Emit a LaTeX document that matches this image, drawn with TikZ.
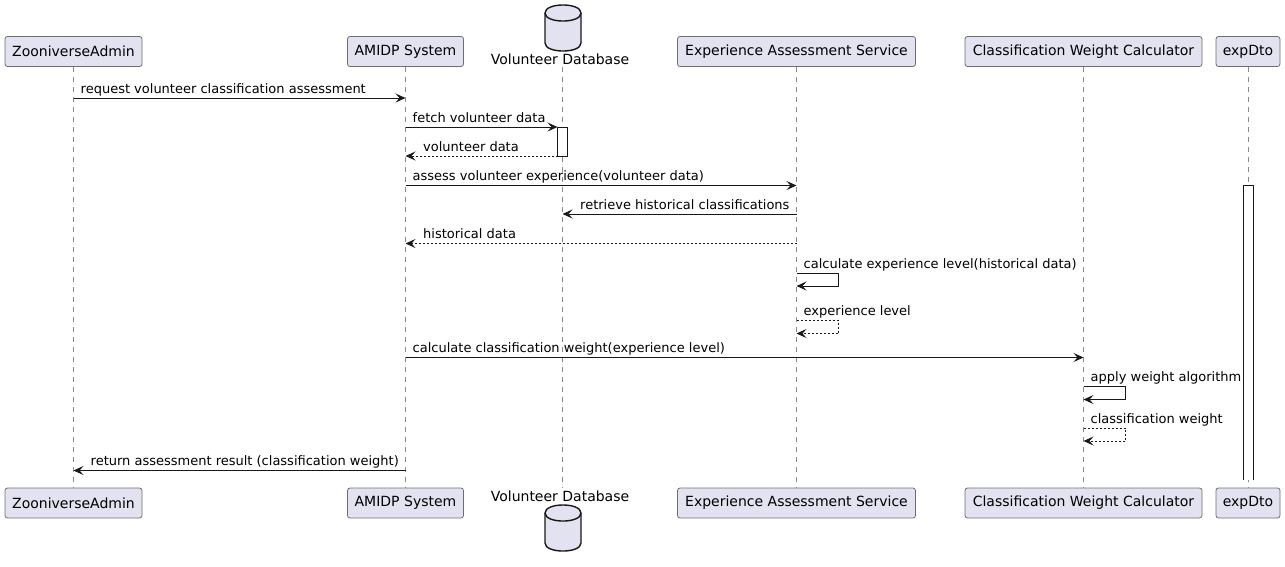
\documentclass[tikz,border=0pt]{standalone}
\usepackage{fontspec}
\setmainfont{DejaVu Sans}
\usetikzlibrary{arrows.meta}
\definecolor{partfill}{HTML}{E2E2F0}
\definecolor{ink}{HTML}{181818}
\definecolor{partborder}{HTML}{6E6E6E}
\definecolor{lifegray}{HTML}{8A8A8A}
\tikzset{
  part/.style={draw=partborder, line width=0.8pt, fill=partfill, rounded corners=2.5pt,
    inner sep=0pt, minimum height=30pt, font=\fontsize{14}{16}\selectfont, text=black},
  lifeline/.style={draw=lifegray, line width=0.8pt, dash pattern=on 5pt off 5pt},
  msgline/.style={draw=ink, line width=1pt, -{Stealth[length=10pt,width=9pt,inset=4pt]}},
  retline/.style={msgline, dash pattern=on 2pt off 2pt},
  lbl/.style={anchor=base west, inner sep=0pt, font=\fontsize{13}{15}\selectfont, text=black},
  dblbl/.style={inner sep=0pt, font=\fontsize{14}{16}\selectfont, text=black},
  dbshape/.style={draw=ink, line width=1.4pt, fill=partfill},
  actbox/.style={draw=ink, line width=1pt, fill=white}
}
\begin{document}
\begin{tikzpicture}[x=1pt,y=-1pt]
\useasboundingbox (0,0) rectangle (1285,566);
% top participants
\node[part, minimum width=137pt] (zaT) at (73.5,51.5) {ZooniverseAdmin};
\node[part, minimum width=116pt] (amT) at (405.5,51.5) {AMIDP System};
\node[part, minimum width=238pt] (esT) at (796.5,51.5) {Experience Assessment Service};
\node[part, minimum width=237pt] (cwT) at (1083.5,51.5) {Classification Weight Calculator};
\node[part, minimum width=64pt] (exT) at (1248,51.5) {expDto};
% bottom participants
\node[part, minimum width=137pt] (zaB) at (73.5,503) {ZooniverseAdmin};
\node[part, minimum width=116pt] (amB) at (405.5,503) {AMIDP System};
\node[part, minimum width=238pt] (esB) at (796.5,503) {Experience Assessment Service};
\node[part, minimum width=237pt] (cwB) at (1083.5,503) {Classification Weight Calculator};
\node[part, minimum width=64pt] (exB) at (1248,503) {expDto};
% database
\draw[dbshape] (545,13) .. controls (545,2.3) and (581,2.3) .. (581,13) -- (581,43)
  .. controls (581,53.7) and (545,53.7) .. (545,43) -- cycle;
\draw[dbshape, fill=none] (545,13) .. controls (545,23.7) and (581,23.7) .. (581,13);
\node[dblbl] (dbT) at (560,59.3) {Volunteer Database};
\draw[dbshape] (545,513) .. controls (545,502.3) and (581,502.3) .. (581,513) -- (581,543)
  .. controls (581,553.7) and (545,553.7) .. (545,543) -- cycle;
\draw[dbshape, fill=none] (545,513) .. controls (545,523.7) and (581,523.7) .. (581,513);
\node[dblbl] (dbB) at (560,496.7) {Volunteer Database};
\coordinate (dbTl) at (562.5,66.5);
\coordinate (dbBl) at (562.5,487.5);
% lifelines
\draw[lifeline] (zaT.south) -- (zaB.north);
\draw[lifeline] (amT.south) -- (amB.north);
\draw[lifeline] (dbTl) -- (dbBl);
\draw[lifeline] (esT.south) -- (esB.north);
\draw[lifeline] (cwT.south) -- (cwB.north);
\draw[lifeline] (exT.south) -- (exB.north);
% lifeline x references
\coordinate (L1) at (73.5,0);
\coordinate (L2) at (405.5,0);
\coordinate (L3) at (562.5,0);
\coordinate (L4) at (796.5,0);
\coordinate (L5) at (1083.5,0);
\coordinate (L6) at (1248,0);
% activations
\coordinate (actDBl) at (557.5,0);
\draw[actbox] (557.5,127) rectangle (567.5,156);
\fill[white] (1243.5,185.5) rectangle (1253.5,480);
\draw[draw=ink, line width=1pt] (1243.5,480) -- (1243.5,185.5) -- (1253.5,185.5) -- (1253.5,480);
% messages
\draw[msgline] (L1 |- 0,98) -- (L2 |- 0,98);
\node[lbl] at (80.5,93) {request volunteer classification assessment};
\draw[msgline] (L2 |- 0,127) -- (actDBl |- 0,127);
\node[lbl] at (412.5,122) {fetch volunteer data};
\draw[retline] (actDBl |- 0,156) -- (L2 |- 0,156);
\node[lbl] at (423,151) {volunteer data};
\draw[msgline] (L2 |- 0,185.5) -- (L4 |- 0,185.5);
\node[lbl] at (412.5,180.5) {assess volunteer experience(volunteer data)};
\draw[msgline] (L4 |- 0,214) -- (L3 |- 0,214);
\node[lbl] at (580,209) {retrieve historical classifications};
\draw[retline] (L4 |- 0,243.5) -- (L2 |- 0,243.5);
\node[lbl] at (423,238.5) {historical data};
\draw[msgline] (L4 |- 0,273) -| (838.5,286) -- (L4 |- 0,286);
\node[lbl] at (803.5,268) {calculate experience level(historical data)};
\draw[retline] (L4 |- 0,320.5) -| (838.5,333.5) -- (L4 |- 0,333.5);
\node[lbl] at (803.5,315.5) {experience level};
\draw[msgline] (L2 |- 0,357.5) -- (L5 |- 0,357.5);
\node[lbl] at (412.5,352.5) {calculate classification weight(experience level)};
\draw[msgline] (L5 |- 0,386.5) -| (1125.5,399.5) -- (L5 |- 0,399.5);
\node[lbl] at (1090.5,381.5) {apply weight algorithm};
\draw[retline] (L5 |- 0,428) -| (1125.5,441) -- (L5 |- 0,441);
\node[lbl] at (1090.5,423) {classification weight};
\draw[msgline] (L2 |- 0,470.5) -- (L1 |- 0,470.5);
\node[lbl] at (90.5,465.5) {return assessment result (classification weight)};
\end{tikzpicture}
\end{document}
